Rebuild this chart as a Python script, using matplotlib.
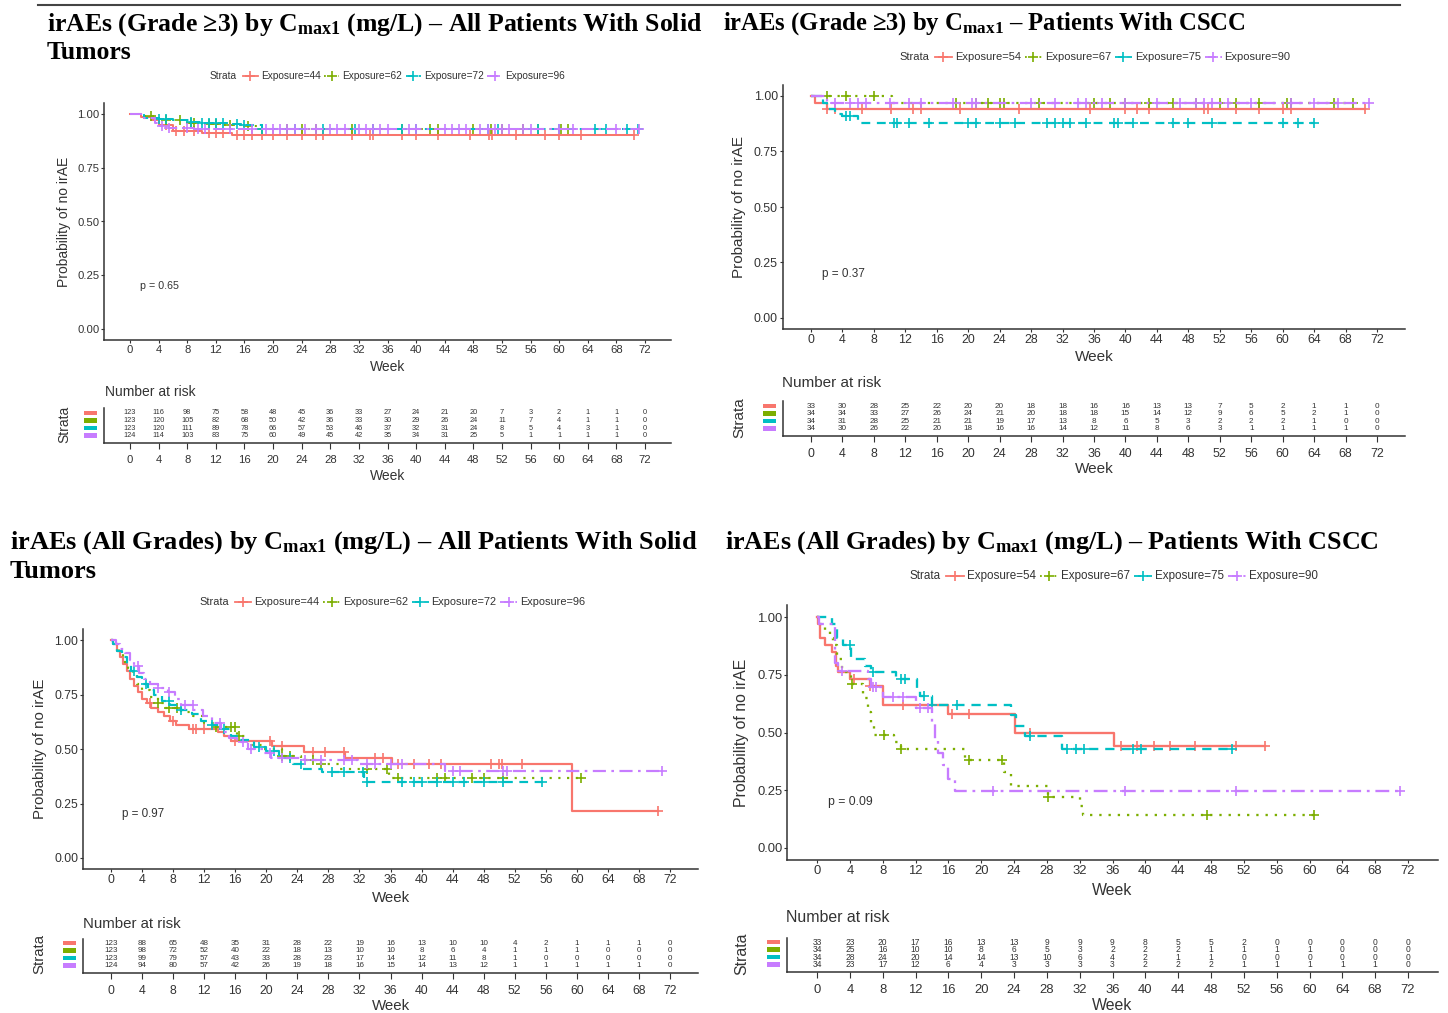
import matplotlib.pyplot as plt
from matplotlib.lines import Line2D
from matplotlib.patches import Rectangle
import numpy as np

plt.rcParams['font.family'] = 'Liberation Sans'
plt.rcParams['mathtext.fontset'] = 'custom'
plt.rcParams['mathtext.rm'] = 'Liberation Serif:bold'
plt.rcParams['mathtext.it'] = 'Liberation Serif:bold'
plt.rcParams['mathtext.bf'] = 'Liberation Serif:bold'

W, H = 1448, 1013
COLORS = ['#F8766D', '#7CAE00', '#00BFC4', '#C77CFF']
LSTYLES = ['-', (0, (1, 3)), (0, (4, 3)), (0, (6, 2.5, 1.2, 2.5))]
GREY = '#333333'
week_ticks = list(range(0, 76, 4))
y_ticks = [0.0, 0.25, 0.5, 0.75, 1.0]

# ---------------- panel A: irAEs grade>=3, all solid tumours ----------------
a_labels = ['Exposure=44', 'Exposure=62', 'Exposure=72', 'Exposure=96']
a_times = [
    [1.5, 3.0, 4.0, 6.0, 10.0, 14.3],
    [2.0, 4.0, 5.0, 8.0, 10.0, 13.0, 16.5, 18.5],
    [2.0, 4.0, 6.0, 8.5, 10.0, 14.0, 16.0, 18.5],
    [2.0, 3.5, 4.2, 5.5, 9.0],
]
a_surv = [
    [0.985, 0.97, 0.947, 0.92, 0.91, 0.90],
    [0.99, 0.975, 0.97, 0.96, 0.955, 0.95, 0.945, 0.93],
    [0.98, 0.975, 0.97, 0.965, 0.96, 0.955, 0.95, 0.93],
    [0.98, 0.96, 0.945, 0.935, 0.93],
]
a_cens = [
    [5, 6.5, 7.5, 9, 11, 12, 13, 15, 16, 17, 18.5, 20, 22, 24, 26, 27, 31, 33.5, 34,
     38, 40, 43, 47.5, 50.2, 50.6, 54, 58, 60, 63, 70.5],
    [3, 5, 7, 8.5, 9, 11, 12, 14, 16.5, 18.5, 22, 24, 26, 31, 34, 38, 42, 43, 48,
     50.5, 52, 55, 57, 60.2, 61.2],
    [4, 5, 8.5, 10, 11, 12, 13, 15, 16, 18.5, 23, 27, 31.5, 34, 38, 40, 50, 51.5,
     57, 60, 65, 66.5, 69.5, 71],
    [4.5, 5.5, 8, 9.5, 10.5, 14, 17, 19, 20, 21, 22, 23, 24.5, 26, 28, 29, 30, 32,
     33, 34, 35, 36, 39, 40, 44, 45, 46, 47, 49, 50, 51, 52, 53, 55, 56, 60, 62, 68, 71.2],
]
a_risk = [
    [123, 116, 98, 75, 58, 48, 45, 36, 33, 27, 24, 21, 20, 7, 3, 2, 1, 1, 0],
    [123, 120, 105, 82, 68, 50, 42, 36, 33, 30, 29, 26, 24, 11, 7, 4, 1, 1, 0],
    [123, 120, 111, 89, 78, 66, 57, 53, 46, 37, 32, 31, 24, 8, 5, 4, 3, 1, 0],
    [124, 114, 103, 83, 75, 60, 49, 45, 42, 35, 34, 31, 25, 5, 1, 1, 1, 1, 0],
]
a_p = 'p = 0.65'

# ---------------- panel B: irAEs grade>=3, CSCC ----------------
b_labels = ['Exposure=54', 'Exposure=67', 'Exposure=75', 'Exposure=90']
b_times = [
    [0.5, 2.0],
    [10.3],
    [1.5, 2.0, 3.0, 4.0, 6.0],
    [2.0],
]
b_surv = [
    [0.97, 0.94],
    [0.97],
    [0.97, 0.94, 0.92, 0.91, 0.88],
    [0.97],
]
b_cens = [
    [2, 3, 6.5, 10.2, 13, 14, 19, 26.5, 35.5, 40, 41.5, 43, 50, 50.5, 54, 57, 60, 61, 70.5],
    [2, 4.5, 8, 18.5, 21, 22.5, 24, 24.5, 29, 36, 38, 40, 43, 46, 49, 52, 54, 57,
     60.5, 61, 66.5, 69],
    [4.5, 5, 10.5, 11, 12.5, 15, 20, 21, 24, 26, 30, 31, 32, 33, 35, 38.5, 39, 41,
     46, 48, 51, 60, 62, 64],
    [3, 5, 6, 7, 10, 12.5, 14, 18, 20.5, 21, 28, 31, 34, 35, 37, 40, 44, 47, 49,
     50, 51, 53, 56, 61, 64, 67, 71],
]
b_risk = [
    [33, 30, 28, 25, 22, 20, 20, 18, 18, 16, 16, 13, 13, 7, 5, 2, 1, 1, 0],
    [34, 34, 33, 27, 26, 24, 21, 20, 18, 18, 15, 14, 12, 9, 6, 5, 2, 1, 0],
    [34, 31, 28, 25, 21, 21, 19, 17, 13, 8, 6, 5, 3, 2, 2, 2, 1, 0, 0],
    [34, 30, 26, 22, 20, 18, 16, 16, 14, 12, 11, 8, 6, 3, 1, 1, 1, 1, 0],
]
b_p = 'p = 0.37'

# ---------------- panel C: irAEs all grades, all solid tumours ----------------
c_labels = a_labels
c_times = [
    [0.3, 0.8, 1.2, 1.6, 2.0, 2.5, 3.0, 3.5, 4.0, 4.6, 5.2, 6.0, 6.8, 7.6, 8.4, 10.0,
     13.8, 14.6, 15.4, 20.8, 24.8, 30.2, 36.2, 59.4],
    [0.4, 1.0, 1.6, 2.2, 2.8, 3.4, 4.0, 5.0, 6.0, 7.0, 9.0, 10.5, 12.0, 13.5, 16.2,
     17.5, 19.5, 22.0, 24.5, 27.0, 29.5, 35.8],
    [0.3, 0.8, 1.4, 2.0, 2.6, 3.3, 4.0, 4.8, 5.6, 6.6, 7.6, 9.0, 10.4, 11.6, 13.0,
     14.2, 15.4, 16.6, 18.4, 20.0, 21.6, 23.4, 24.6, 27.2, 32.6],
    [0.6, 1.2, 1.8, 2.4, 3.0, 3.6, 4.2, 5.0, 6.0, 7.4, 8.2, 9.0, 10.6, 11.8, 13.0,
     14.2, 15.2, 16.2, 17.6, 19.6, 20.6, 24.8, 31.8, 43.0],
]
c_surv = [
    [0.98, 0.95, 0.92, 0.89, 0.86, 0.82, 0.79, 0.76, 0.73, 0.71, 0.69, 0.67, 0.65,
     0.63, 0.61, 0.59, 0.58, 0.56, 0.535, 0.515, 0.485, 0.46, 0.43, 0.215],
    [0.98, 0.94, 0.90, 0.87, 0.84, 0.80, 0.77, 0.74, 0.71, 0.69, 0.67, 0.65, 0.62,
     0.60, 0.56, 0.52, 0.50, 0.47, 0.45, 0.43, 0.41, 0.365],
    [0.98, 0.95, 0.92, 0.89, 0.86, 0.83, 0.80, 0.77, 0.75, 0.72, 0.70, 0.68, 0.66,
     0.63, 0.61, 0.59, 0.56, 0.54, 0.51, 0.49, 0.46, 0.43, 0.41, 0.395, 0.35],
    [0.98, 0.96, 0.94, 0.91, 0.88, 0.85, 0.82, 0.80, 0.78, 0.76, 0.73, 0.70, 0.68,
     0.65, 0.62, 0.58, 0.55, 0.53, 0.50, 0.48, 0.46, 0.45, 0.43, 0.40],
]
c_cens = [
    [5, 8, 10.5, 11, 12, 16, 20.5, 22, 26, 27.5, 30, 34, 35, 37, 39, 41, 42.5, 49,
     50, 50.3, 53, 70.5],
    [6, 7.5, 8.5, 13.5, 15.5, 16, 16.5, 22, 23, 26, 27, 33, 35.5, 37, 42, 43, 46.5,
     48, 50.5, 60.5],
    [3, 4.5, 7.5, 9, 13, 14.5, 19, 21, 23, 24.5, 28.5, 30, 32.5, 33, 37.5, 39, 40,
     42, 44, 45.5, 48, 50.5, 55.5],
    [3.5, 6, 7.5, 9.5, 10.5, 14, 17, 18, 20.5, 22, 25, 27, 30, 31, 33, 34, 36, 37.5,
     44, 45, 50.5, 51, 71],
]
c_risk = [
    [123, 88, 65, 48, 35, 31, 28, 22, 19, 16, 13, 10, 10, 4, 2, 1, 1, 1, 0],
    [123, 98, 72, 52, 40, 22, 18, 13, 10, 10, 8, 6, 4, 1, 1, 1, 0, 0, 0],
    [123, 99, 79, 57, 43, 33, 28, 23, 17, 14, 12, 11, 8, 1, 0, 0, 0, 0, 0],
    [124, 94, 80, 57, 42, 26, 19, 18, 16, 15, 14, 13, 12, 1, 1, 1, 1, 1, 0],
]
c_p = 'p = 0.97'

# ---------------- panel D: irAEs all grades, CSCC ----------------
d_labels = b_labels
d_times = [
    [0.1, 0.4, 1.0, 1.8, 2.3, 2.6, 4.0, 6.4, 8.1, 16.0, 24.1, 36.2],
    [0.4, 1.0, 1.6, 2.0, 2.4, 3.0, 4.2, 5.6, 6.2, 6.6, 7.0, 9.4, 10.2, 18.0, 22.8,
     23.6, 28.2, 32.0, 32.4],
    [1.8, 2.4, 3.2, 4.2, 5.8, 6.6, 9.6, 12.2, 12.6, 14.0, 23.6, 24.2, 25.4, 29.8],
    [0.2, 2.2, 2.5, 6.2, 6.6, 8.1, 12.1, 14.0, 14.4, 14.8, 15.3, 16.0, 16.8],
]
d_surv = [
    [0.97, 0.91, 0.88, 0.85, 0.79, 0.76, 0.73, 0.70, 0.62, 0.58, 0.50, 0.44],
    [0.97, 0.94, 0.91, 0.88, 0.82, 0.76, 0.71, 0.65, 0.59, 0.53, 0.49, 0.46, 0.43,
     0.38, 0.33, 0.27, 0.22, 0.18, 0.145],
    [0.97, 0.91, 0.88, 0.82, 0.79, 0.76, 0.73, 0.69, 0.66, 0.62, 0.575, 0.53, 0.485, 0.43],
    [0.97, 0.80, 0.765, 0.73, 0.695, 0.655, 0.605, 0.54, 0.47, 0.41, 0.36, 0.30, 0.245],
]
d_cens = [
    [4.5, 6.5, 10.5, 16.5, 18.5, 26, 37, 39, 41, 43, 46, 51, 54.6],
    [4.3, 8.2, 10.2, 18.5, 22.5, 28.2, 47.5, 60.5],
    [4, 6.8, 10.2, 10.7, 13, 14, 17, 26, 30.5, 31.5, 32.5, 38.5, 39.5, 50.5],
    [3, 6.8, 7.2, 9.3, 10.5, 12.5, 13.5, 21.5, 37.5, 51, 71],
]
d_risk = [
    [33, 23, 20, 17, 16, 13, 13, 9, 9, 9, 8, 5, 5, 2, 0, 0, 0, 0, 0],
    [34, 25, 16, 10, 10, 8, 6, 5, 3, 2, 2, 2, 1, 1, 1, 1, 0, 0, 0],
    [34, 28, 24, 20, 14, 14, 13, 10, 6, 4, 2, 1, 1, 0, 0, 0, 0, 0, 0],
    [34, 23, 17, 12, 6, 4, 3, 3, 3, 3, 2, 2, 2, 1, 1, 1, 1, 1, 0],
]
d_p = 'p = 0.09'

title_a = [r'irAEs (Grade ≥3) by $\mathrm{C}_{\mathrm{max1}}$ (mg/L) – All Patients With Solid', 'Tumors']
title_b = [r'irAEs (Grade ≥3) by $\mathrm{C}_{\mathrm{max1}}$ – Patients With CSCC']
title_c = [r'irAEs (All Grades) by $\mathrm{C}_{\mathrm{max1}}$ (mg/L) – All Patients With Solid', 'Tumors']
title_d = [r'irAEs (All Grades) by $\mathrm{C}_{\mathrm{max1}}$ (mg/L) – Patients With CSCC']

# layout in pixels of the reference image
panels = [
    dict(labels=a_labels, times=a_times, surv=a_surv, cens=a_cens, risk=a_risk, p=a_p,
         title=title_a, tfs=18.5, tx=47, ty=[31, 59], x0=130, x72=645, y1=114, y0=329,
         rax=443, leg=(210, 76), nar=(105, 392), wk=(367, 476)),
    dict(labels=b_labels, times=b_times, surv=b_surv, cens=b_cens, risk=b_risk, p=b_p,
         title=title_b, tfs=17.7, tx=723, ty=[30], x0=811, x72=1377, y1=96, y0=318,
         rax=436, leg=(899, 57), nar=(782, 383), wk=(357, 469)),
    dict(labels=c_labels, times=c_times, surv=c_surv, cens=c_cens, risk=c_risk, p=c_p,
         title=title_c, tfs=19.0, tx=10, ty=[549, 578], x0=111, x72=670, y1=640, y0=858,
         rax=973, leg=(199, 602), nar=(83, 924), wk=(898, 1006)),
    dict(labels=d_labels, times=d_times, surv=d_surv, cens=d_cens, risk=d_risk, p=d_p,
         title=title_d, tfs=18.85, tx=725, ty=[549], x0=817, x72=1408, y1=617, y0=848,
         rax=972, leg=(909, 576), nar=(786, 917), wk=(890, 1005)),
]
ROW = 7.5  # pixel spacing of risk-table rows

fig = plt.figure(figsize=(W / 100, H / 100), dpi=100)


def fx(x):
    return x / W


def fy(y):
    return 1 - y / H


def add_ax(left, top, right, bottom):
    return fig.add_axes([fx(left), fy(bottom), (right - left) / W, (bottom - top) / H])


def style_ax(ax, f, xpad, tlen):
    for side in ['top', 'right']:
        ax.spines[side].set_visible(False)
    for side in ['left', 'bottom']:
        ax.spines[side].set_color(GREY)
        ax.spines[side].set_linewidth(1.1)
    ax.tick_params(length=2.5, width=0.8, color=GREY, labelcolor=GREY,
                   labelsize=9 * f, pad=1)
    ax.tick_params(axis='x', pad=xpad, length=tlen)
    ax.set_xlim(-3.6, 75.6)
    ax.set_xticks(week_ticks)
    ax.set_facecolor('white')


def km(ax, times, surv, cens, color, ls, lw):
    end = max(cens)
    t = np.r_[0.0, times, end]
    s = np.r_[1.0, surv, surv[-1]]
    ax.step(t, s, where='post', color=color, ls=ls, lw=lw)
    idx = np.searchsorted(np.r_[0.0, times], cens, side='right') - 1
    cs = np.r_[1.0, surv][idx]
    ax.plot(cens, cs, ls='none', marker='+', ms=6.5, mew=1.2, color=color)


renderer = fig.canvas.get_renderer()

# top rule
fig.add_artist(Line2D([fx(38), fx(1400)], [fy(5), fy(5)], color='#444444', lw=1.5))

for P in panels:
    u = (P['x72'] - P['x0']) / 72.0
    f = u / 7.9
    v = P['y0'] - P['y1']
    left = P['x0'] - 3.6 * u
    right = P['x72'] + 3.6 * u

    # titles
    for line, yb in zip(P['title'], P['ty']):
        fig.text(fx(P['tx']), fy(yb), line, fontsize=P['tfs'], fontfamily='Liberation Serif',
                 fontweight='bold', va='baseline', ha='left', color='black')

    # main KM axes
    ax = add_ax(left, P['y1'] - 0.05 * v, right, P['y0'] + 0.05 * v)
    style_ax(ax, f, 1.2, 2.5)
    ax.set_ylim(-0.05, 1.05)
    ax.set_yticks(y_ticks)
    ax.set_yticklabels(['0.00', '0.25', '0.50', '0.75', '1.00'])
    for i in range(4):
        km(ax, P['times'][i], P['surv'][i], P['cens'][i], COLORS[i], LSTYLES[i], 1.6 * f)
    ax.text(1.4, 0.2, P['p'], fontsize=8.5 * f, color=GREY, ha='left', va='center')
    fig.text(fx(left - 44 * f), fy((P['y0'] + P['y1']) / 2), 'Probability of no irAE',
             rotation=90, fontsize=11 * f, color=GREY, ha='center', va='center')
    fig.text(fx((P['x0'] + P['x72']) / 2), fy(P['wk'][0]), 'Week', fontsize=11 * f,
             color=GREY, ha='center', va='center')

    # legend row
    lx, ly = P['leg']
    fs = 8.1 * f
    t = fig.text(fx(lx), fy(ly), 'Strata', fontsize=fs, color=GREY, va='center', ha='left')
    x = t.get_window_extent(renderer).x1 + 6 * f
    for i in range(4):
        L = 17 * f
        fig.add_artist(Line2D([fx(x), fx(x + L)], [fy(ly), fy(ly)], color=COLORS[i],
                              lw=1.3, ls=LSTYLES[i]))
        fig.add_artist(Line2D([fx(x + L / 2)], [fy(ly)], color=COLORS[i], marker='+',
                              ms=6.5, mew=1.2, ls='none'))
        tt = fig.text(fx(x + L + 3 * f), fy(ly), P['labels'][i], fontsize=fs, color=GREY,
                      va='center', ha='left')
        x = tt.get_window_extent(renderer).x1 + 4 * f

    # risk table
    fig.text(fx(P['nar'][0]), fy(P['nar'][1]), 'Number at risk', fontsize=11 * f,
             color=GREY, ha='left', va='center')
    rax = add_ax(left, P['rax'] - 4.6 * ROW, right, P['rax'])
    style_ax(rax, f, 4.5, 4.0)
    rax.set_ylim(0, 4.6)
    rax.set_yticks([])
    for i in range(4):
        row = 4 - i
        for wk, n in zip(week_ticks, P['risk'][i]):
            rax.text(wk, row, str(n), fontsize=5.9 * f, color=GREY, ha='center', va='center')
        rax.add_patch(Rectangle((-3.6 - 20 / u, row - 0.27), 13 / u, 0.54,
                                color=COLORS[i], clip_on=False, lw=0))
    fig.text(fx(left - 44 * f), fy(P['rax'] - 2.5 * ROW), 'Strata', rotation=90,
             fontsize=11 * f, color=GREY, ha='center', va='center')
    fig.text(fx((P['x0'] + P['x72']) / 2), fy(P['wk'][1]), 'Week', fontsize=11 * f,
             color=GREY, ha='center', va='center')

fig.savefig('out.png', dpi=100, facecolor='white')
